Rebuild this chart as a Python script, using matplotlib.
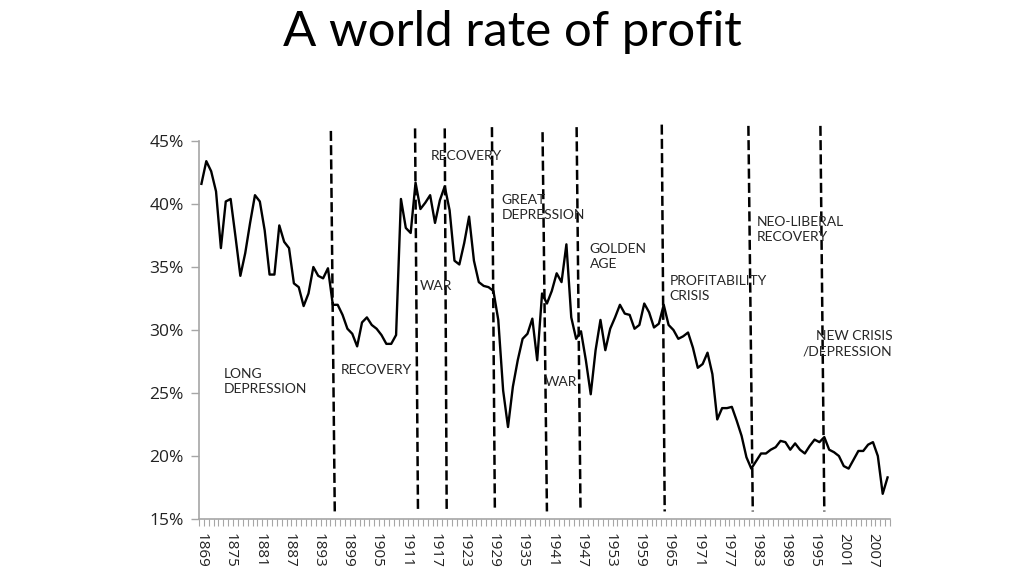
import matplotlib
matplotlib.use("Agg")
import matplotlib.pyplot as plt
from matplotlib.ticker import FixedLocator, FuncFormatter

# ---------------- data ----------------
years = list(range(1869, 2011))
rate = [
    41.6, 43.4, 42.6, 41.0, 36.5, 40.2, 40.4, 37.4, 34.3, 36.1,   # 1869-1878
    38.5, 40.7, 40.2, 37.9, 34.4, 34.4, 38.3, 37.0, 36.5, 33.7,   # 1879-1888
    33.4, 31.9, 32.9, 35.0, 34.3, 34.1, 34.9, 32.0, 32.0, 31.2,   # 1889-1898
    30.1, 29.7, 28.7, 30.6, 31.0, 30.4, 30.1, 29.6, 28.9, 28.9,   # 1899-1908
    29.6, 40.4, 38.1, 37.7, 41.7, 39.6, 40.1, 40.7, 38.5, 40.3,   # 1909-1918
    41.4, 39.5, 35.5, 35.2, 36.9, 39.0, 35.5, 33.8, 33.5, 33.4,   # 1919-1928
    33.1, 30.8, 25.2, 22.3, 25.5, 27.6, 29.3, 29.7, 30.9, 27.6,   # 1929-1938
    32.9, 32.1, 33.1, 34.5, 33.8, 36.8, 31.0, 29.3, 29.9, 27.6,   # 1939-1948
    24.9, 28.4, 30.8, 28.4, 30.1, 31.0, 32.0, 31.3, 31.2, 30.1,   # 1949-1958
    30.4, 32.1, 31.4, 30.2, 30.5, 32.0, 30.4, 30.0, 29.3, 29.5,   # 1959-1968
    29.8, 28.6, 27.0, 27.3, 28.2, 26.5, 22.9, 23.8, 23.8, 23.9,   # 1969-1978
    22.8, 21.6, 19.9, 19.0, 19.6, 20.2, 20.2, 20.5, 20.7, 21.2,   # 1979-1988
    21.1, 20.5, 21.0, 20.5, 20.2, 20.8, 21.3, 21.1, 21.5, 20.5,   # 1989-1998
    20.3, 20.0, 19.2, 19.0, 19.7, 20.4, 20.4, 20.9, 21.1, 20.0,   # 1999-2008
    17.0, 18.3,                                                     # 2009-2010
]
assert len(rate) == len(years)

tick_years = list(range(1869, 2011, 6))
y_ticks = [15, 20, 25, 30, 35, 40, 45]

# period boundaries (dashed lines): top year, bottom year
boundary_top = [1895.6, 1912.9, 1919.0, 1928.7, 1939.1, 1946.1, 1963.6, 1981.4, 1996.2]
boundary_bottom = [1896.4, 1913.5, 1919.4, 1929.3, 1940.0, 1946.9, 1964.2, 1982.3, 1997.0]
boundary_ytop = [45.8, 46.0, 46.0, 46.1, 45.7, 46.1, 46.3, 46.2, 46.2]

period_labels = ["LONG\nDEPRESSION", "RECOVERY", "WAR", "RECOVERY",
                 "GREAT\nDEPRESSION", "WAR", "GOLDEN\nAGE",
                 "PROFITABILITY\nCRISIS", "NEO-LIBERAL\nRECOVERY",
                 "NEW CRISIS\n/DEPRESSION"]
label_x = [1873.6, 1897.7, 1913.9, 1916.1, 1930.7, 1939.5, 1948.8, 1965.2, 1983.1, 2011.0]
label_y = [25.9, 26.8, 33.5, 43.8, 39.7, 25.9, 35.8, 33.3, 38.0, 28.9]
label_ha = ["left"] * 9 + ["right"]

# ---------------- figure ----------------
plt.rcParams['font.family'] = ['Open Sans', 'DejaVu Sans']
LATO = ['Lato', 'DejaVu Sans']
fig = plt.figure(figsize=(10.24, 5.76), dpi=100)
ax = fig.add_axes([199 / 1024, 1 - 519 / 576, (890 - 199) / 1024, (519 - 141) / 576])

ax.plot(years, rate, color='black', lw=1.7, zorder=3)

for xt, xb, yt in zip(boundary_top, boundary_bottom, boundary_ytop):
    ax.plot([xt, xb], [yt, 15.6], color='black', lw=1.8,
            ls=(0, (4, 1.7)), clip_on=False, zorder=2)

for s, x, y, ha in zip(period_labels, label_x, label_y, label_ha):
    ax.text(x, y, s, ha=ha, va='center', multialignment=ha, family=LATO,
            fontsize=10, color='#262626', linespacing=1.3, zorder=4)

ax.set_xlim(1868.5, 2010.5)
ax.set_ylim(15, 45)

ax.set_yticks(y_ticks)
ax.yaxis.set_major_formatter(FuncFormatter(lambda v, p: f"{v:.0f}%"))
ax.tick_params(axis='y', direction='out', length=6, width=1, color='#a6a6a6',
               labelsize=12.5, labelcolor='#222222', pad=5)

ax.set_xticks(tick_years)
ax.set_xticklabels([str(y) for y in tick_years], rotation=270)
ax.xaxis.set_minor_locator(FixedLocator([y + 0.5 for y in range(1868, 2011)]))
ax.tick_params(axis='x', which='major', length=0, labelsize=11,
               labelcolor='#222222', pad=10)
ax.tick_params(axis='x', which='minor', direction='out', length=5, width=0.8,
               color='#a6a6a6')

for side in ['top', 'right']:
    ax.spines[side].set_visible(False)
for side in ['left', 'bottom']:
    ax.spines[side].set_color('#a6a6a6')
    ax.spines[side].set_linewidth(1.2)

fig.text(0.5, 1 - 46 / 576, "A world rate of profit", ha='center', va='baseline',
         fontsize=35.5, color='black', family=LATO)

fig.savefig("out.png", dpi=100, facecolor='white')
